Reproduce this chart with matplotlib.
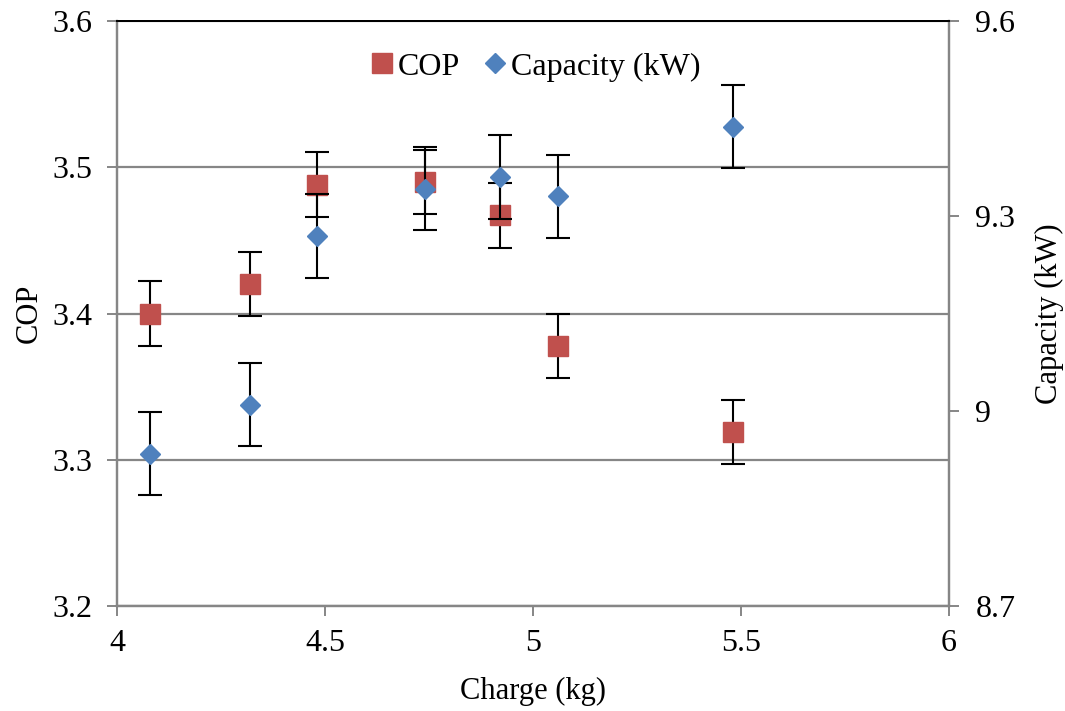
import matplotlib
matplotlib.use("Agg")
import matplotlib.pyplot as plt
from matplotlib.lines import Line2D

charge = [4.08, 4.32, 4.48, 4.74, 4.92, 5.06, 5.48]
cop = [3.400, 3.420, 3.488, 3.490, 3.467, 3.378, 3.319]
cop_err = [0.022, 0.022, 0.022, 0.022, 0.022, 0.022, 0.022]
capacity = [8.935, 9.010, 9.269, 9.342, 9.360, 9.330, 9.437]
cap_err = [0.064, 0.064, 0.064, 0.064, 0.064, 0.064, 0.064]

x_ticks = [4, 4.5, 5, 5.5, 6]
x_labels = ["4", "4.5", "5", "5.5", "6"]
left_ticks = [3.2, 3.3, 3.4, 3.5, 3.6]
left_labels = ["3.2", "3.3", "3.4", "3.5", "3.6"]
right_ticks = [8.7, 9.0, 9.3, 9.6]
right_labels = ["8.7", "9", "9.3", "9.6"]

plt.rcParams['font.family'] = ['Liberation Serif', 'DejaVu Serif']
FS = 22
TFS = 23
RED = '#C0504D'
BLUE = '#4F81BD'
GRAY = '#868686'

fig = plt.figure(figsize=(10.65, 7.11), dpi=100)
ax = fig.add_axes([0.110, 0.147, 0.781, 0.824])
ax2 = ax.twinx()

ax.set_xlim(4, 6)
ax.set_ylim(3.2, 3.6)
ax2.set_ylim(8.7, 9.6)

ax.set_xticks(x_ticks)
ax.set_xticklabels(x_labels, fontsize=TFS)
ax.set_yticks(left_ticks)
ax.set_yticklabels(left_labels, fontsize=TFS)
ax2.set_yticks(right_ticks)
ax2.set_yticklabels(right_labels, fontsize=TFS)

ax.yaxis.grid(True, color=GRAY, linewidth=1.6)
ax.set_axisbelow(True)

for a in (ax, ax2):
    for s in ('left', 'bottom', 'right'):
        a.spines[s].set_color(GRAY)
        a.spines[s].set_linewidth(1.6)
    a.spines['top'].set_color('black')
    a.spines['top'].set_linewidth(1.4)
    a.tick_params(direction='out', length=7, width=1.4, color=GRAY)
ax.tick_params(axis='y', pad=11)
ax.tick_params(axis='x', pad=9)
ax2.tick_params(axis='y', pad=12)

ax.errorbar(charge, cop, yerr=cop_err, fmt='s', color=RED, ms=14.5,
            mec=RED, ecolor='black', elinewidth=1.5, capsize=8.5,
            capthick=1.5, zorder=3)
ax2.errorbar(charge, capacity, yerr=cap_err, fmt='D', color=BLUE, ms=10.3,
             mec=BLUE, ecolor='black', elinewidth=1.5, capsize=8.5,
             capthick=1.5, zorder=3)

ax.set_xlabel("Charge (kg)", fontsize=FS, labelpad=14)
ax.set_ylabel("COP", fontsize=FS, labelpad=6)
ax2.set_ylabel("Capacity (kW)", fontsize=FS, labelpad=14)

handles = [Line2D([], [], marker='s', color=RED, ls='none', ms=14.5),
           Line2D([], [], marker='D', color=BLUE, ls='none', ms=10.3)]
ax2.legend(handles, ["COP", "Capacity (kW)"], loc='upper center',
           bbox_to_anchor=(0.5, 0.995), ncol=2, frameon=False, fontsize=TFS,
           handletextpad=0.0, columnspacing=0.6, handlelength=1.0)

fig.savefig("out.png", dpi=100)
